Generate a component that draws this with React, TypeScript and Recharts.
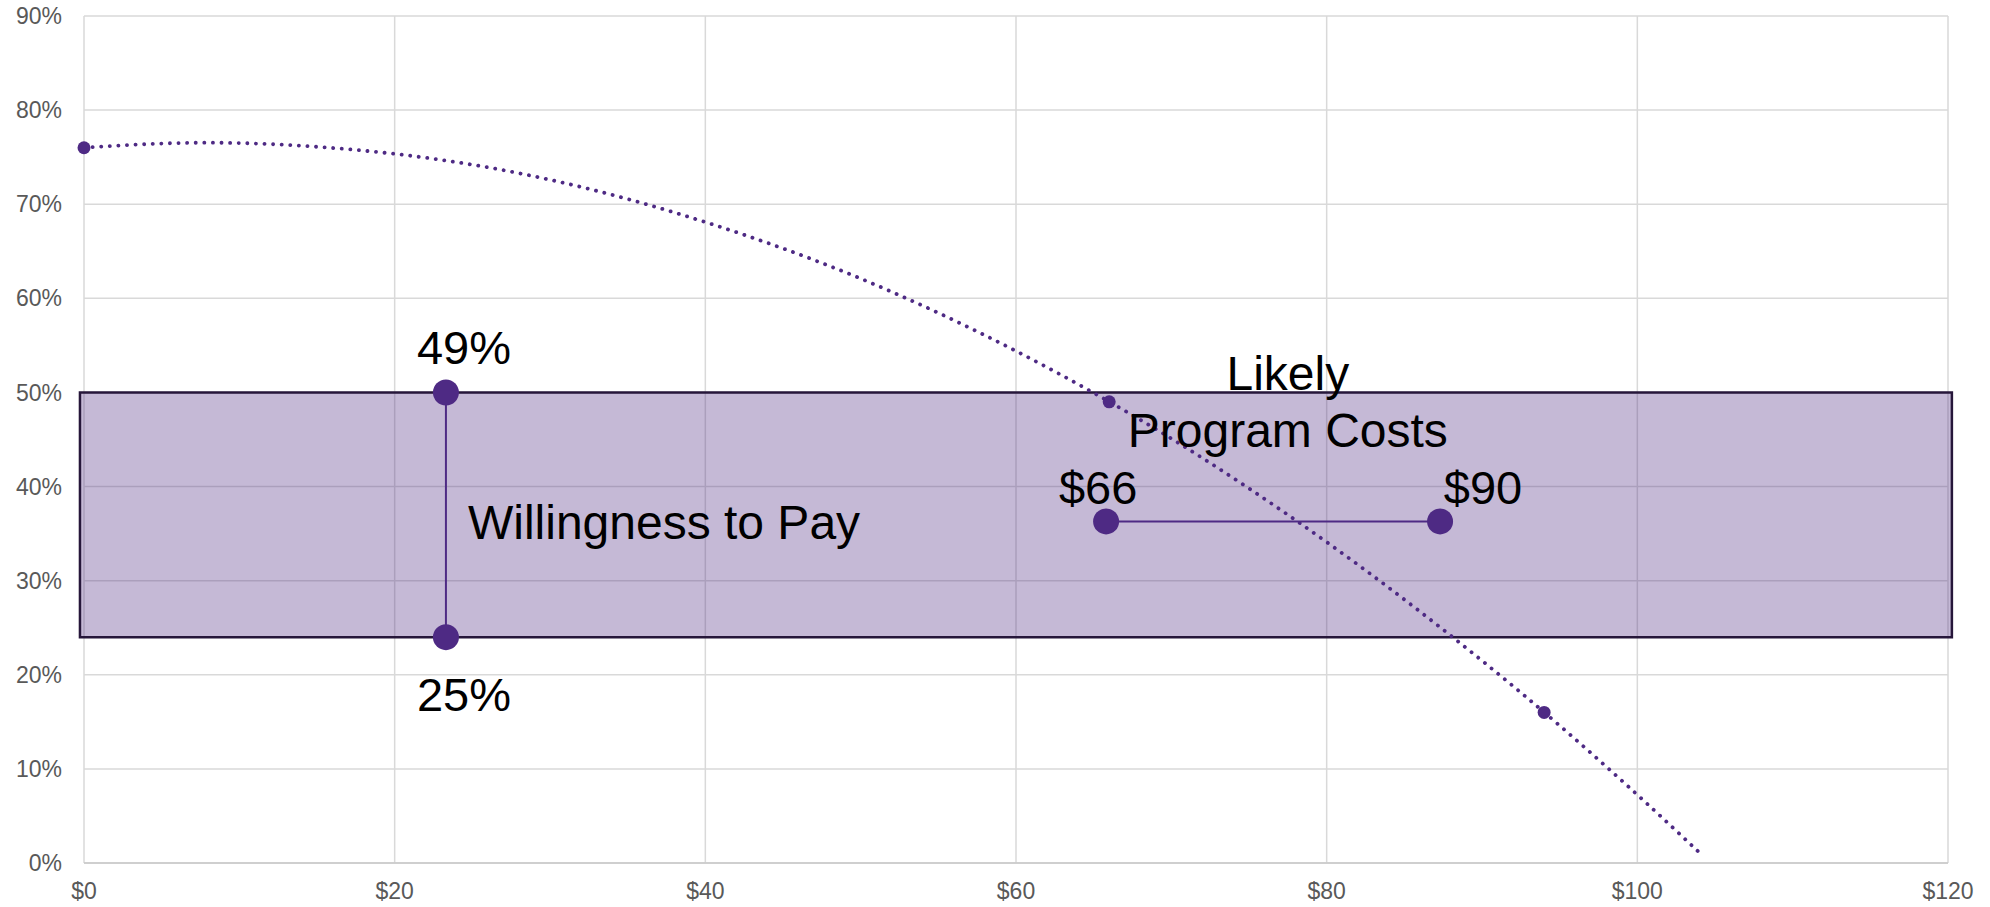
import React from "react";
import {
  ComposedChart, Line, Scatter, XAxis, YAxis, CartesianGrid,
  ReferenceArea, ReferenceDot, LabelList,
} from "recharts";

// trend curve (price $ -> share %)
const trendX = [0, 5, 10, 15, 20, 25, 30, 35, 40, 45, 50, 55, 60, 65, 70, 75, 80, 85, 90, 95, 100, 104];
const trendY = [76, 76.45, 76.5, 76.1, 75.35, 74.2, 72.6, 70.55, 68.1, 65.3, 62.1, 58.45, 54.4, 49.95, 45.1, 39.8, 34.1, 28, 21.5, 14.6, 7.25, 1.1];

// survey points on the curve
const surveyX = [0, 66, 94];
const surveyY = [76, 49, 16];

// willingness to pay range
const wtpX = [23.3, 23.3];
const wtpY = [50, 24];
const wtpLabels = ["49%", "25%"];

// likely program cost range
const costX = [65.8, 87.3];
const costY = [36.3, 36.3];
const costLabels = ["$66", "$90"];

// shaded band
const bandX = [-0.26, 120.25];
const bandY = [24, 50];

const xTicks = [0, 20, 40, 60, 80, 100, 120];
const yTicks = [0, 10, 20, 30, 40, 50, 60, 70, 80, 90];

const PURPLE = "#4E2A84";
const FONT = "'Liberation Sans', Arial, sans-serif";

const trendData = trendX.map((x, i) => ({ x, y: trendY[i] }));
const surveyData = surveyX.map((x, i) => ({ x, y: surveyY[i] }));
const wtpData = wtpX.map((x, i) => ({ x, y: wtpY[i], label: wtpLabels[i] }));
const costData = costX.map((x, i) => ({ x, y: costY[i], label: costLabels[i] }));

const wtpOffsets = [{ dx: 18, dy: -28 }, { dx: 18, dy: 74 }];
const costOffsets = [{ dx: -8, dy: -17 }, { dx: 43, dy: -17 }];

const makeLabel = (offsets: { dx: number; dy: number }[]) => (p: any) => {
  const o = offsets[p.index] || { dx: 0, dy: 0 };
  return (
    <text x={p.x + o.dx} y={p.y + o.dy} textAnchor="middle"
      fontFamily={FONT} fontSize={47} fill="#000">
      {p.value}
    </text>
  );
};

const bigDot = (p: any) => <circle key={p.index} cx={p.cx} cy={p.cy} r={13} fill={PURPLE} />;

export default function App() {
  return (
    <div style={{ position: "absolute", left: 0, top: 0, background: "#fff" }}>
      <ComposedChart width={1990} height={907} margin={{ top: 16, right: 42, bottom: 0, left: 0 }}>
        <CartesianGrid stroke="#D9D9D9" strokeWidth={1.5} />
        <XAxis
          type="number" dataKey="x" domain={[0, 120]} ticks={xTicks}
          tickFormatter={(v: number) => `$${v}`}
          tick={{ fontSize: 23, fill: "#595959", fontFamily: FONT }}
          tickLine={false} tickSize={0} tickMargin={20}
          axisLine={{ stroke: "#C8C8C8", strokeWidth: 1.5 }}
          height={44}
        />
        <YAxis
          type="number" dataKey="y" domain={[0, 90]} ticks={yTicks}
          tickFormatter={(v: number) => `${v}%`}
          tick={{ fontSize: 23, fill: "#595959", fontFamily: FONT }}
          tickLine={false} tickSize={0} tickMargin={22}
          axisLine={false} width={84}
        />
        <ReferenceArea
          x1={bandX[0]} x2={bandX[1]} y1={bandY[0]} y2={bandY[1]}
          fill={PURPLE} fillOpacity={0.33} stroke="#26163A" strokeWidth={2.5}
          ifOverflow="visible"
        />
        <Line
          data={trendData} dataKey="y" type="natural" stroke={PURPLE}
          strokeWidth={3.8} strokeDasharray="0.1 8.5" strokeLinecap="round"
          dot={false} activeDot={false} isAnimationActive={false}
        />
        <Scatter
          data={surveyData} dataKey="y" fill={PURPLE} isAnimationActive={false}
          shape={(p: any) => <circle cx={p.cx} cy={p.cy} r={6.5} fill={PURPLE} />}
        />
        <Line
          data={wtpData} dataKey="y" type="linear" stroke={PURPLE} strokeWidth={2}
          dot={bigDot} activeDot={false} isAnimationActive={false}
        >
          <LabelList dataKey="label" content={makeLabel(wtpOffsets)} />
        </Line>
        <Line
          data={costData} dataKey="y" type="linear" stroke={PURPLE} strokeWidth={2}
          dot={bigDot} activeDot={false} isAnimationActive={false}
        >
          <LabelList dataKey="label" content={makeLabel(costOffsets)} />
        </Line>
        <ReferenceDot
          x={wtpX[0]} y={(wtpY[0] + wtpY[1]) / 2} ifOverflow="visible"
          shape={(p: any) => (
            <text x={p.cx + 22} y={p.cy + 24} fontFamily={FONT} fontSize={48} fill="#000">
              Willingness to Pay
            </text>
          )}
        />
        <ReferenceDot
          x={77.5} y={bandY[1]} ifOverflow="visible"
          shape={(p: any) => (
            <text x={p.cx} y={p.cy} textAnchor="middle" fontFamily={FONT} fontSize={48} fill="#000">
              <tspan x={p.cx} dy={-2}>Likely</tspan>
              <tspan x={p.cx} dy={57}>Program Costs</tspan>
            </text>
          )}
        />
      </ComposedChart>
    </div>
  );
}
